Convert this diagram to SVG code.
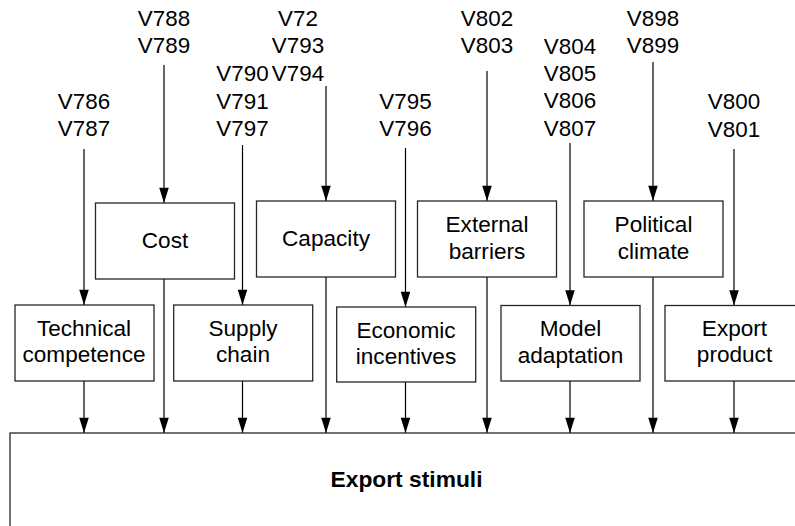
<svg xmlns="http://www.w3.org/2000/svg" width="795" height="526" viewBox="0 0 795 526">
  <defs>
    <marker id="arrow" viewBox="0 0 16 10" refX="16" refY="5" markerWidth="16" markerHeight="9.5" markerUnits="userSpaceOnUse" orient="auto">
      <path d="M0,0 L16,5 L0,10 z" fill="#000"/>
    </marker>
  </defs>
  <style>
    .box { fill: #fff; stroke: #262626; stroke-width: 1.3; }
    .lbl { font-family: "Liberation Sans", Arial, sans-serif; font-size: 22.6px; fill: #000; text-anchor: middle; }
    .var { font-family: "Liberation Sans", Arial, sans-serif; font-size: 22.4px; fill: #000; text-anchor: middle; }
    .title { font-family: "Liberation Sans", Arial, sans-serif; font-size: 22.8px; font-weight: bold; fill: #000; text-anchor: middle; }
    .conn { stroke: #000; stroke-width: 1.2; fill: none; marker-end: url(#arrow); }
  </style>
  <rect width="795" height="526" fill="#fff"/>

  <!-- variable labels -->
  <g id="vars">
    <text class="var" x="84" y="108.5">V786</text>
    <text class="var" x="84" y="136">V787</text>
    <text class="var" x="164" y="26">V788</text>
    <text class="var" x="164" y="53">V789</text>
    <text class="var" x="242.5" y="81">V790</text>
    <text class="var" x="242.5" y="108.5">V791</text>
    <text class="var" x="242.5" y="136">V797</text>
    <text class="var" x="298" y="26" text-anchor="start">V72</text>
    <text class="var" x="298" y="53" text-anchor="start">V793</text>
    <text class="var" x="298" y="81" text-anchor="start">V794</text>
    <text class="var" x="405.5" y="108.5">V795</text>
    <text class="var" x="405.5" y="136">V796</text>
    <text class="var" x="487" y="26">V802</text>
    <text class="var" x="487" y="53">V803</text>
    <text class="var" x="570" y="53.5">V804</text>
    <text class="var" x="570" y="81">V805</text>
    <text class="var" x="570" y="108">V806</text>
    <text class="var" x="570" y="135.5">V807</text>
    <text class="var" x="653" y="26">V898</text>
    <text class="var" x="653" y="53">V899</text>
    <text class="var" x="734" y="109">V800</text>
    <text class="var" x="734" y="136.5">V801</text>
  </g>

  <!-- connectors -->
  <g id="connectors">
    <line class="conn" x1="84" y1="149" x2="84" y2="305"/>
    <line class="conn" x1="164" y1="65" x2="164" y2="203"/>
    <line class="conn" x1="242.5" y1="145" x2="242.5" y2="305"/>
    <line class="conn" x1="326" y1="86" x2="326" y2="201"/>
    <line class="conn" x1="405.5" y1="148" x2="405.5" y2="307"/>
    <line class="conn" x1="487" y1="71" x2="487" y2="201"/>
    <line class="conn" x1="570" y1="143" x2="570" y2="305.5"/>
    <line class="conn" x1="653" y1="62" x2="653" y2="201"/>
    <line class="conn" x1="734" y1="149" x2="734" y2="305.5"/>

    <line class="conn" x1="84" y1="381" x2="84" y2="433"/>
    <line class="conn" x1="164" y1="279" x2="164" y2="433"/>
    <line class="conn" x1="242.5" y1="381" x2="242.5" y2="433"/>
    <line class="conn" x1="326" y1="277" x2="326" y2="433"/>
    <line class="conn" x1="405.5" y1="382" x2="405.5" y2="433"/>
    <line class="conn" x1="487" y1="277" x2="487" y2="433"/>
    <line class="conn" x1="570" y1="381" x2="570" y2="433"/>
    <line class="conn" x1="653" y1="277" x2="653" y2="433"/>
    <line class="conn" x1="734" y1="381" x2="734" y2="433"/>
  </g>

  <!-- upper factors -->
  <g id="cost">
    <rect class="box" x="95.5" y="203" width="139" height="76"/>
    <text class="lbl" x="165" y="247.5">Cost</text>
  </g>
  <g id="capacity">
    <rect class="box" x="256.5" y="201" width="139" height="76"/>
    <text class="lbl" x="326" y="245.5">Capacity</text>
  </g>
  <g id="external-barriers">
    <rect class="box" x="417.5" y="201" width="139" height="76"/>
    <text class="lbl" x="487" y="232">External</text>
    <text class="lbl" x="487" y="258.5">barriers</text>
  </g>
  <g id="political-climate">
    <rect class="box" x="584" y="201" width="139" height="76"/>
    <text class="lbl" x="653.5" y="232">Political</text>
    <text class="lbl" x="653.5" y="258.5">climate</text>
  </g>

  <!-- lower factors -->
  <g id="technical-competence">
    <rect class="box" x="15" y="305" width="139" height="76"/>
    <text class="lbl" x="84" y="335.5">Technical</text>
    <text class="lbl" x="84" y="362">competence</text>
  </g>
  <g id="supply-chain">
    <rect class="box" x="173.7" y="305" width="139" height="76"/>
    <text class="lbl" x="243" y="335.5">Supply</text>
    <text class="lbl" x="243" y="362">chain</text>
  </g>
  <g id="economic-incentives">
    <rect class="box" x="336.7" y="307" width="139" height="75"/>
    <text class="lbl" x="406" y="337.5">Economic</text>
    <text class="lbl" x="406" y="364">incentives</text>
  </g>
  <g id="model-adaptation">
    <rect class="box" x="501" y="305.5" width="139" height="75.5"/>
    <text class="lbl" x="570.5" y="335.5">Model</text>
    <text class="lbl" x="570.5" y="362.5">adaptation</text>
  </g>
  <g id="export-product">
    <rect class="box" x="665" y="305.5" width="139" height="75.5"/>
    <text class="lbl" x="734.5" y="335.5">Export</text>
    <text class="lbl" x="734.5" y="362">product</text>
  </g>

  <!-- outcome -->
  <g id="export-stimuli">
    <rect class="box" x="10" y="433" width="794" height="100"/>
    <text class="title" x="406.5" y="487">Export stimuli</text>
  </g>
</svg>
